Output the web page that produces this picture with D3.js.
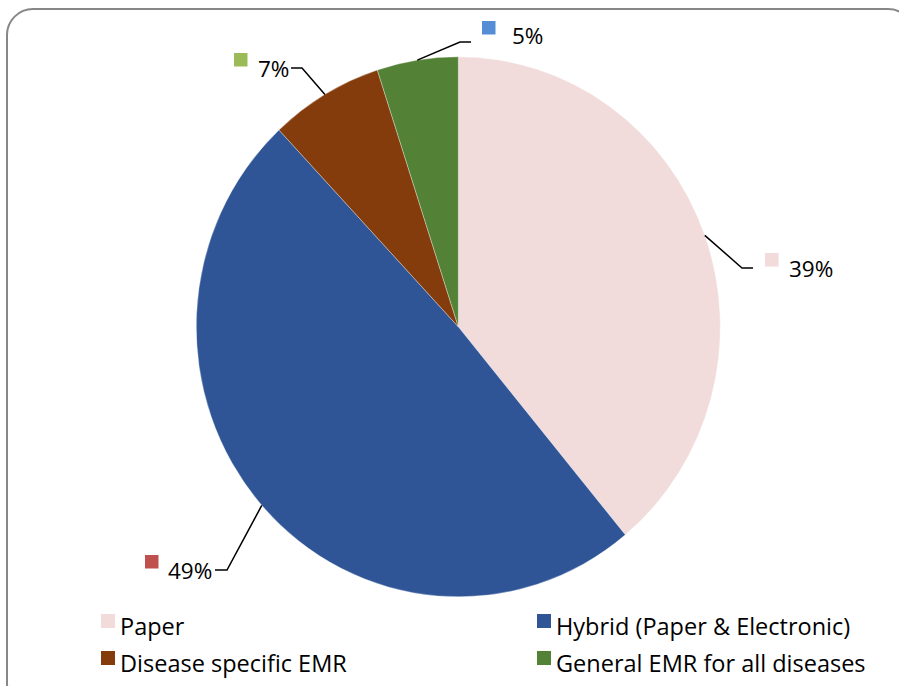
<!DOCTYPE html>
<html>
<head>
<meta charset="utf-8">
<script src="https://cdn.jsdelivr.net/npm/d3@7"></script>
<style>
  html, body { margin: 0; padding: 0; background: #fff; }
  svg { display: block; }
  text { font-family: "Open Sans", "Noto Sans", sans-serif; fill: #000; }
</style>
</head>
<body>
<svg id="chart" width="899" height="686"></svg>
<script>
// Medical record formats in use (share of respondents, %)
const categories = ["Paper", "Hybrid (Paper & Electronic)", "Disease specific EMR", "General EMR for all diseases"];
const values = [39, 49, 7, 5];
const sliceColors = ["#F2DCDB", "#2F5597", "#843C0C", "#538135"];
// marker squares beside the data labels
const labelMarkerColors = ["#F2DCDB", "#C0504D", "#9BBB59", "#558ED5"];
const valueLabels = values.map(v => v + "%");

const svg = d3.select("#chart");

// rounded chart frame
svg.append("rect")
  .attr("x", 7).attr("y", 9)
  .attr("width", 907).attr("height", 700)
  .attr("rx", 26).attr("ry", 26)
  .attr("fill", "#fff")
  .attr("stroke", "#878787")
  .attr("stroke-width", 2);

// pie geometry (slightly wider-than-tall ellipse)
const cx = 458.3, cy = 326.8, rx = 262, ry = 270;

const pie = d3.pie().sort(null).value(d => d)
  .startAngle(0).endAngle(2 * Math.PI);
const arcs = pie(values);
const arc = d3.arc().innerRadius(0).outerRadius(ry);

const pieG = svg.append("g")
  .attr("transform", `translate(${cx},${cy}) scale(${rx / ry},1)`);

pieG.selectAll("path")
  .data(arcs)
  .join("path")
  .attr("d", arc)
  .attr("fill", (d, i) => sliceColors[i])
  .attr("stroke", "#ffffff")
  .attr("stroke-opacity", 0.55)
  .attr("stroke-width", 0.6);

// edge point of a slice at its mid angle
function edgePoint(d) {
  const a = (d.startAngle + d.endAngle) / 2;
  return [cx + rx * Math.sin(a), cy - ry * Math.cos(a)];
}

// label placement: elbow of the leader, end of the leader, marker and text positions
const labelLayout = [
  { elbow: [742, 268], end: [753, 268], marker: [765, 253], text: [789, 277] },
  { elbow: [227, 570], end: [215, 570], marker: [145, 555], text: [168, 579] },
  { elbow: [302, 68],  end: [291, 68],  marker: [234, 53],  text: [258, 77] },
  { elbow: [460, 42],  end: [471, 42],  marker: [482, 21],  text: [512, 44] }
];

const labels = svg.append("g");
arcs.forEach((d, i) => {
  const L = labelLayout[i];
  const p = edgePoint(d);
  labels.append("polyline")
    .attr("points", [p, L.elbow, L.end].map(q => q.join(",")).join(" "))
    .attr("fill", "none")
    .attr("stroke", "#000")
    .attr("stroke-width", 1.5);
  labels.append("rect")
    .attr("x", L.marker[0]).attr("y", L.marker[1])
    .attr("width", 13.5).attr("height", 13.5)
    .attr("fill", labelMarkerColors[i]);
  labels.append("text")
    .attr("x", L.text[0]).attr("y", L.text[1])
    .attr("font-size", 22.5)
    .text(valueLabels[i]);
});

// legend, two columns by two rows
const legendX = [101, 537];
const legendY = [614, 651];
const legend = svg.append("g");
categories.forEach((c, i) => {
  const col = i % 2, row = Math.floor(i / 2);
  legend.append("rect")
    .attr("x", legendX[col]).attr("y", legendY[row])
    .attr("width", 14).attr("height", 14)
    .attr("fill", sliceColors[i]);
  legend.append("text")
    .attr("x", legendX[col] + 19).attr("y", legendY[row] + 21)
    .attr("font-size", 23.5)
    .text(c);
});
</script>
</body>
</html>
